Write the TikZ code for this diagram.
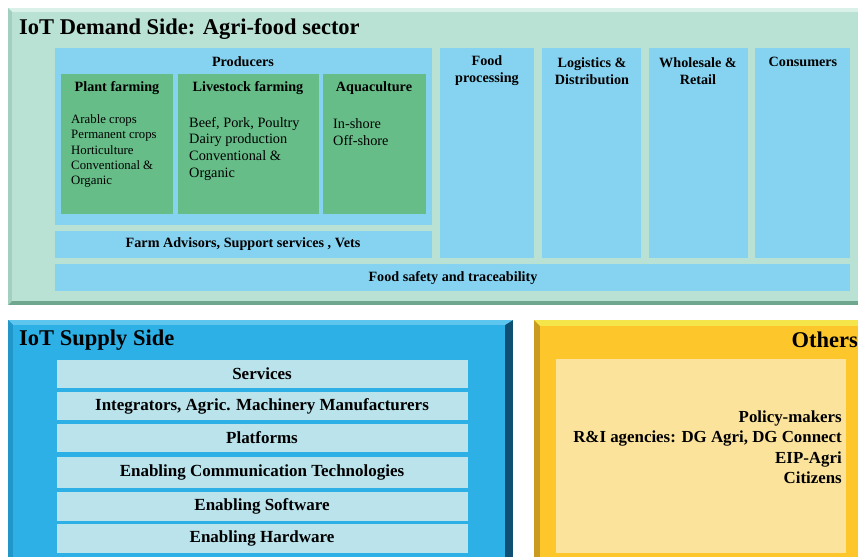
\documentclass[tikz,border=0pt]{standalone}
\usepackage{fontspec}
\setmainfont{Liberation Serif}

\definecolor{demfill}{HTML}{B9E1D4}
\definecolor{demtop}{HTML}{D9F1E9}
\definecolor{demleft}{HTML}{A2D0BF}
\definecolor{demdark}{HTML}{6FA68E}
\definecolor{prodblue}{HTML}{86D3F1}
\definecolor{farmgreen}{HTML}{66BD88}
\definecolor{supfill}{HTML}{2DB0E6}
\definecolor{suptop}{HTML}{5CC6EE}
\definecolor{supleft}{HTML}{2196C8}
\definecolor{supdark}{HTML}{0E4F72}
\definecolor{suplayer}{HTML}{BAE3EC}
\definecolor{othfill}{HTML}{FDC72C}
\definecolor{othtop}{HTML}{F3E54A}
\definecolor{othleft}{HTML}{C99B1E}
\definecolor{othinner}{HTML}{FBE39C}

\begin{document}
\begin{tikzpicture}[x=0.03cm, y=-0.03cm,
    title/.style={font=\bfseries\fontsize{19.2}{21}\selectfont, inner sep=0pt},
    lbl/.style={font=\bfseries\fontsize{12.1}{14.5}\selectfont, inner sep=0pt, align=center},
    layer/.style={font=\bfseries\fontsize{14.5}{16}\selectfont, inner sep=0pt},
    items/.style={font=\fontsize{12.2}{14.5}\selectfont, inner sep=0pt, align=left, anchor=west}]
\useasboundingbox (0,0) rectangle (858,557);

    % demand side
    \fill[demdark] (8,8) rectangle (866,305);
    \fill[demtop] (8,8) -- (866,8) -- (866,12) -- (12,12) -- cycle;
    \fill[demleft] (8,8) -- (12,12) -- (12,301) -- (8,305) -- cycle;
    \fill[demfill] (12,12) rectangle (866,301);

    \fill[prodblue] (55,48) rectangle (432,225);
    \fill[farmgreen] (61,74) rectangle (173,214);
    \fill[farmgreen] (178,74) rectangle (319,214);
    \fill[farmgreen] (323,74) rectangle (426,214);
    \fill[prodblue] (55,231) rectangle (432,258);
    \fill[prodblue] (55,264) rectangle (850,291);
    \fill[prodblue] (440,48) rectangle (534,258);
    \fill[prodblue] (542,48) rectangle (641,258);
    \fill[prodblue] (649,48) rectangle (748,258);
    \fill[prodblue] (755,48) rectangle (850,258);

    \node[title, anchor=west] (demtitle) at (19,29) {IoT Demand Side: Agri-food sector};
    \node[lbl] (producers) at (243,62) {Producers};
    \node[lbl] (plant) at (117,88) {Plant farming};
    \node[lbl] (livestock) at (248,88) {Livestock farming};
    \node[lbl] (aqua) at (374,88) {Aquaculture};
    \node[items, font=\fontsize{10.9}{13}\selectfont] (plantitems) at (71,151)
        {Arable crops\\Permanent crops\\Horticulture\\Conventional \&\\Organic};
    \node[items] (livestockitems) at (189,149)
        {Beef, Pork, Poultry\\Dairy production\\Conventional \&\\Organic};
    \node[items] (aquaitems) at (333,132) {In-shore\\Off-shore};
    \node[lbl] (advisors) at (243,244) {Farm Advisors, Support services , Vets};
    \node[lbl] (safety) at (453,278) {Food safety and traceability};
    \node[lbl] (processing) at (487,71) {Food\\processing};
    \node[lbl] (logistics) at (592,71) {Logistics \&\\Distribution};
    \node[lbl] (wholesale) at (698,71) {Wholesale \&\\Retail};
    \node[lbl] (consumers) at (803,62) {Consumers};

    % supply side
    \fill[supdark] (8,320) rectangle (513,565);
    \fill[suptop] (8,320) -- (513,320) -- (505,325) -- (13,325) -- cycle;
    \fill[supleft] (8,320) -- (13,325) -- (13,565) -- (8,565) -- cycle;
    \fill[supfill] (13,325) rectangle (505,565);

    \foreach \ya/\yb in {360/388, 392/420, 424/452, 457/488, 492/521, 524/553}
        \fill[suplayer] (57,\ya) rectangle (468,\yb);

    \node[title, anchor=west] (suptitle) at (19,340) {IoT Supply Side};
    \node[layer] (services) at (262,374) {Services};
    \node[layer] (integrators) at (262,406) {Integrators, Agric. Machinery Manufacturers};
    \node[layer] (platforms) at (262,438) {Platforms};
    \node[layer] (comm) at (262,472.5) {Enabling Communication Technologies};
    \node[layer] (software) at (262,506.5) {Enabling Software};
    \node[layer] (hardware) at (262,538.5) {Enabling Hardware};

    % others
    \fill[othleft] (534,320) rectangle (866,565);
    \fill[othtop] (534,320) -- (866,320) -- (866,326) -- (540,326) -- cycle;
    \fill[othfill] (540,326) rectangle (866,565);
    \fill[othinner] (556,359) rectangle (846,553);

    \node[title, anchor=east] (othtitle) at (858,340) {Others};
    \node[layer, align=right, anchor=east, font=\bfseries\fontsize{14.4}{17.5}\selectfont] (othitems) at (842,447)
        {Policy-makers\\R\&I agencies: DG Agri, DG Connect\\EIP-Agri\\Citizens};

\end{tikzpicture}
\end{document}
